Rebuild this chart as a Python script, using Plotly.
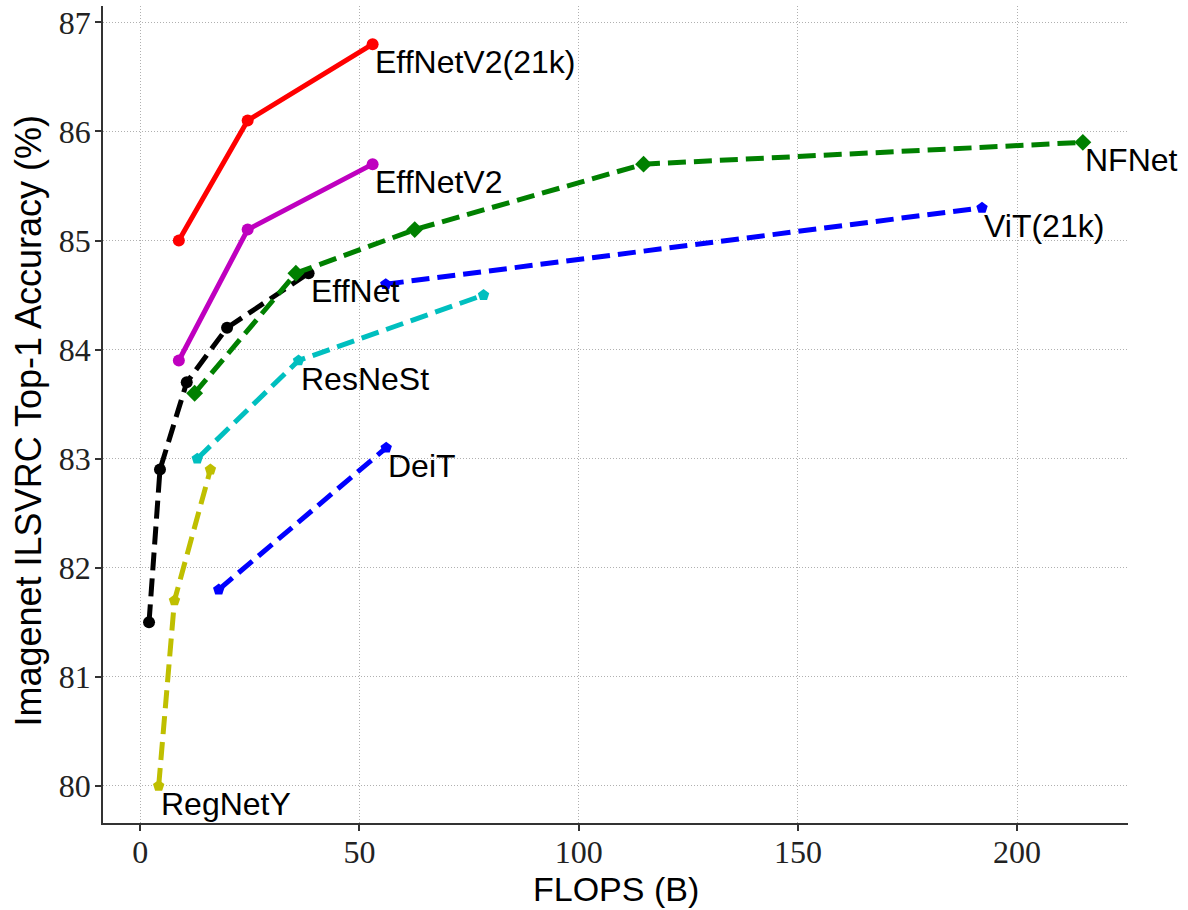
import plotly.graph_objects as go

# Data
effv2_21k_x = [8.8, 24.5, 53.0]
effv2_21k_y = [85.0, 86.1, 86.8]
effv2_x = [8.8, 24.5, 53.0]
effv2_y = [83.9, 85.1, 85.7]
effnet_x = [2.0, 4.5, 10.6, 19.8, 38.4]
effnet_y = [81.5, 82.9, 83.7, 84.2, 84.7]
nfnet_x = [12.4, 35.5, 62.6, 114.8, 215.0]
nfnet_y = [83.6, 84.7, 85.1, 85.7, 85.9]
vit_x = [56.0, 192.0]
vit_y = [84.6, 85.3]
resnest_x = [13.0, 36.1, 78.3]
resnest_y = [83.0, 83.9, 84.5]
deit_x = [17.9, 56.1]
deit_y = [81.8, 83.1]
regnety_x = [4.2, 7.8, 16.0]
regnety_y = [80.0, 81.7, 82.9]

names = ["EffNetV2(21k)", "EffNetV2", "EffNet", "NFNet", "ViT(21k)", "ResNeSt", "DeiT", "RegNetY"]
# which point of each series carries the text label
label_idx = [-1, -1, -1, -1, -1, 1, -1, 0]

x_ticks = [0, 50, 100, 150, 200]
y_ticks = [80, 81, 82, 83, 84, 85, 86, 87]

DASH = "18px,8px"
series = [
    (effv2_21k_x, effv2_21k_y, "#ff0000", "solid", "circle"),
    (effv2_x, effv2_y, "#bf00bf", "solid", "circle"),
    (effnet_x, effnet_y, "#000000", DASH, "circle"),
    (nfnet_x, nfnet_y, "#008000", DASH, "diamond"),
    (vit_x, vit_y, "#0000ff", DASH, "pentagon"),
    (resnest_x, resnest_y, "#00bfbf", DASH, "pentagon"),
    (deit_x, deit_y, "#0000ff", DASH, "pentagon"),
    (regnety_x, regnety_y, "#bfbf00", DASH, "pentagon"),
]

fig = go.Figure()
annotations = []
for name, li, (xs, ys, color, dash, sym) in zip(names, label_idx, series):
    msize = 13 if sym == "diamond" else 12
    fig.add_trace(go.Scatter(
        x=xs, y=ys, mode="lines+markers", name=name,
        line=dict(color=color, width=5, dash=dash),
        marker=dict(color=color, size=msize, symbol=sym, line=dict(width=0)),
        showlegend=False,
    ))
    annotations.append(dict(
        x=xs[li], y=ys[li], xref="x", yref="y", text=name, showarrow=False,
        xanchor="left", yanchor="top", xshift=0, yshift=2,
        font=dict(family="Liberation Sans", size=32, color="#000000"),
    ))

# axis titles
annotations.append(dict(
    x=0.5, y=0, xref="paper", yref="paper", text="FLOPS (B)", showarrow=False,
    xanchor="center", yanchor="top", yshift=-45,
    font=dict(family="Liberation Sans", size=34, color="#000000"),
))
annotations.append(dict(
    x=0, y=0.5, xref="paper", yref="paper", text="Imagenet ILSVRC Top-1 Accuracy (%)",
    showarrow=False, textangle=-90, xanchor="center", yanchor="middle", xshift=-75, yshift=-6,
    font=dict(family="Liberation Sans", size=36, color="#000000"),
))

axis_common = dict(
    showgrid=True, gridcolor="#b0b0b0", gridwidth=1, griddash="1px,2px",
    zeroline=False, automargin=False,
    showline=True, linecolor="#333333", linewidth=1.5,
    ticks="outside", ticklen=6, tickcolor="#333333", tickwidth=1.5,
    tickfont=dict(family="Liberation Serif", size=32, color="#222222"),
)

fig.update_layout(
    width=1188, height=910,
    margin=dict(l=103, r=60, t=6, b=87),
    paper_bgcolor="white", plot_bgcolor="white",
    annotations=annotations,
    xaxis=dict(range=[-8.5, 225.3], tickvals=x_ticks, ticktext=[str(v) for v in x_ticks],
               ticklabelstandoff=-6, **axis_common),
    yaxis=dict(range=[79.66, 87.15], tickvals=y_ticks, ticktext=[str(v) for v in y_ticks],
               ticklabelstandoff=-2, **axis_common),
)

fig.write_html("out.html", config={"displayModeBar": False},
               post_script="document.body.style.margin='0';")
